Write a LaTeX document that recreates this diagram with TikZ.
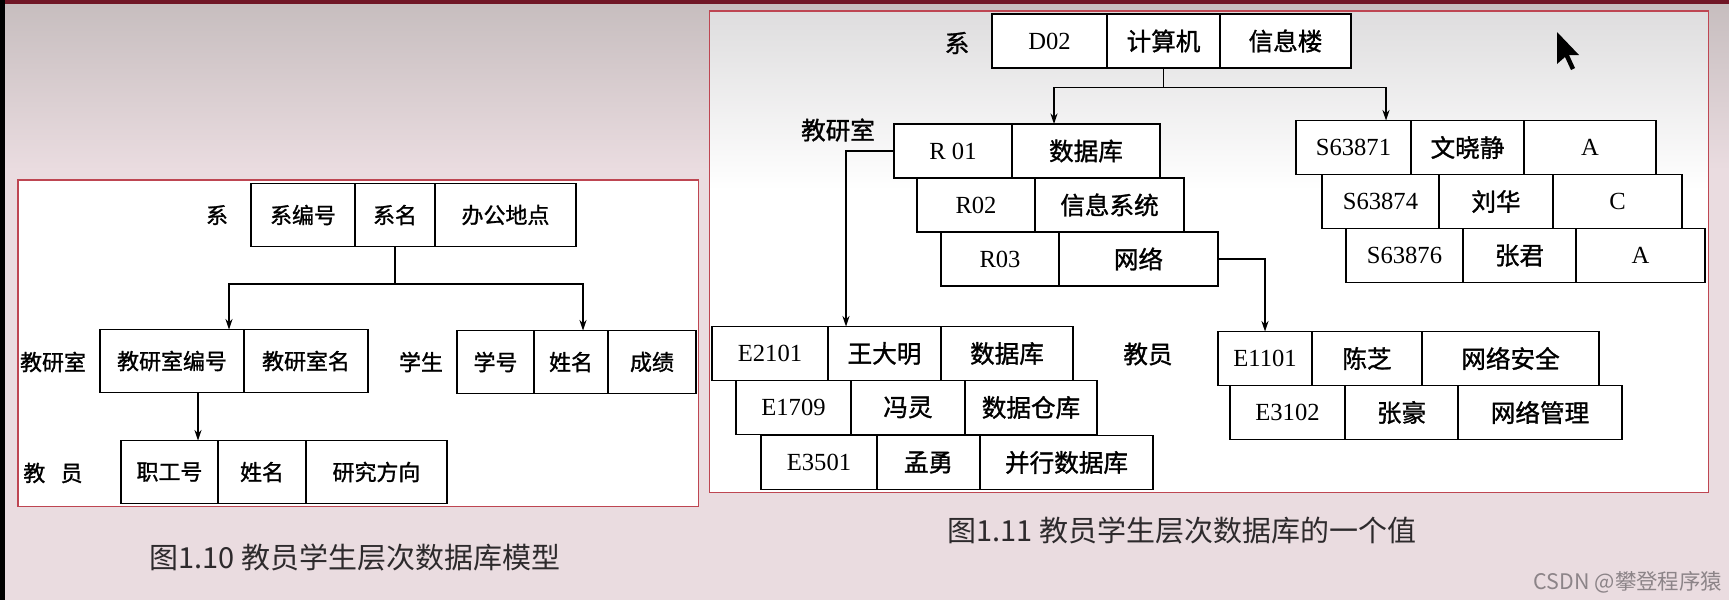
\documentclass[tikz,border=0pt]{standalone}
\usepackage{fontspec}
\setmainfont{Liberation Serif}
\newfontfamily\cjk{Noto Sans CJK SC}
\newfontfamily\cjkb{Noto Sans CJK SC}[FakeBold=1.2]
\usetikzlibrary{arrows.meta,positioning,calc}

\definecolor{bgtop}{RGB}{198,189,190}
\definecolor{bgpink}{RGB}{234,220,224}
\definecolor{stripe}{RGB}{112,22,38}
\definecolor{panelred}{RGB}{190,70,82}
\definecolor{panelgray}{RGB}{222,221,222}
\definecolor{captext}{RGB}{45,42,44}
\definecolor{wmark}{RGB}{140,132,136}

\begin{document}
\begin{tikzpicture}[x=0.02cm, y=-0.02cm,
  fld/.style={draw, line width=0.9pt, outer sep=0pt, inner sep=0pt, anchor=west, fill=white},
  wd/.style={minimum width=#1*0.02cm},
  lbox/.style={fld, minimum height=63*0.02cm, font=\cjkb\fontsize{12.5pt}{15pt}\selectfont},
  rbox/.style={fld, minimum height=54*0.02cm, font=\fontsize{14pt}{16pt}\selectfont},
  rzh/.style={rbox, font=\cjkb\fontsize{14pt}{16pt}\selectfont},
  llbl/.style={font=\cjkb\fontsize{12.5pt}{15pt}\selectfont},
  rlbl/.style={font=\cjkb\fontsize{14pt}{16pt}\selectfont},
  figcap/.style={font=\cjk\fontsize{16.5pt}{18pt}\selectfont, text=captext},
  link/.style={line width=0.8pt},
  arr/.style={link, -{Stealth[length=6pt, width=4pt]}}
]
\useasboundingbox (0,0) rectangle (1729,600);

% screen background
\fill[bgpink] (0,0) rectangle (1729,600);
\shade[top color=bgtop, bottom color=bgpink] (0,0) rectangle (1729,170);
\fill[stripe] (0,0) rectangle (1729,3.5);
\fill[black] (0,0) rectangle (5,600);

% the two panels
\draw[panelred, line width=0.9pt, fill=white] (18,180) rectangle (698.5,506.5);
\fill[white] (709.5,11) rectangle (1708.5,492.5);
\shade[top color=panelgray, bottom color=white] (709.5,11) rectangle (1708.5,190);
\draw[panelred, line width=0.9pt] (709.5,11) rectangle (1708.5,492.5);

% ---- model (left) ----
\node[lbox, wd=104] (dno) at (251,215) {系编号};
\node[lbox, wd=80, right=0pt of dno] (dname) {系名};
\node[lbox, wd=141, right=0pt of dname] (daddr) {办公地点};

\node[lbox, wd=144] (rno) at (100,361) {教研室编号};
\node[lbox, wd=124, right=0pt of rno] (rname) {教研室名};

\node[lbox, wd=77] (sno) at (457,362) {学号};
\node[lbox, wd=74, right=0pt of sno] (sname) {姓名};
\node[lbox, wd=88, right=0pt of sname] (sscore) {成绩};

\node[lbox, wd=97] (eno) at (121,472) {职工号};
\node[lbox, wd=88, right=0pt of eno] (ename) {姓名};
\node[lbox, wd=141, right=0pt of ename] (edir) {研究方向};

\node[llbl] (ldept) at (217,215) {系};
\node[llbl] (lroom) at (53,362) {教研室};
\node[llbl] (lstud) at (421,362) {学生};
\node[llbl] (lstaff) at (53,473) {教\hspace{0.7em}员};

\draw[link] (dname.south) -- ++(0,37.5) coordinate (lsplit);
\draw[arr] (lsplit) -| ($(rno.north east)+(-15,0)$);
\draw[arr] (lsplit) -| ($(sname.north)+(12,0)$);
\draw[arr] ($(rno.south)+(26,0)$) coordinate (rdrop) -- (rdrop |- eno.north);

% ---- one value (right) ----
\node[rbox, wd=115] (dd) at (992,41) {D02};
\node[rzh, wd=113, right=0pt of dd] (dcs) {计算机};
\node[rzh, wd=131, right=0pt of dcs] (dbld) {信息楼};

\node[rbox, wd=118] (r1no) at (894,151) {R 01};
\node[rzh, wd=148, right=0pt of r1no] (r1nm) {数据库};
\node[rbox, wd=118] (r2no) at (917,205) {R02};
\node[rzh, wd=149, right=0pt of r2no] (r2nm) {信息系统};
\node[rbox, wd=118] (r3no) at (941,259) {R03};
\node[rzh, wd=159, right=0pt of r3no] (r3nm) {网络};

\node[rbox, wd=115] (s1no) at (1296,147.5) {S63871};
\node[rzh, wd=113, right=0pt of s1no] (s1nm) {文晓静};
\node[rbox, wd=132, right=0pt of s1nm] (s1sc) {A};
\node[rbox, wd=117] (s2no) at (1322,201.5) {S63874};
\node[rzh, wd=114, right=0pt of s2no] (s2nm) {刘华};
\node[rbox, wd=129, right=0pt of s2nm] (s2sc) {C};
\node[rbox, wd=117] (s3no) at (1346,255.5) {S63876};
\node[rzh, wd=113, right=0pt of s3no] (s3nm) {张君};
\node[rbox, wd=129, right=0pt of s3nm] (s3sc) {A};

\node[rbox, wd=116] (e1no) at (712,353.5) {E2101};
\node[rzh, wd=113, right=0pt of e1no] (e1nm) {王大明};
\node[rzh, wd=132, right=0pt of e1nm] (e1dr) {数据库};
\node[rbox, wd=115] (e2no) at (736,407.5) {E1709};
\node[rzh, wd=114, right=0pt of e2no] (e2nm) {冯灵};
\node[rzh, wd=132, right=0pt of e2nm] (e2dr) {数据仓库};
\node[rbox, wd=116] (e3no) at (761,462.5) {E3501};
\node[rzh, wd=103, right=0pt of e3no] (e3nm) {孟勇};
\node[rzh, wd=173, right=0pt of e3nm] (e3dr) {并行数据库};

\node[rbox, wd=94] (e4no) at (1218,358.5) {E1101};
\node[rzh, wd=110, right=0pt of e4no] (e4nm) {陈芝};
\node[rzh, wd=177, right=0pt of e4nm] (e4dr) {网络安全};
\node[rbox, wd=115] (e5no) at (1230,412.5) {E3102};
\node[rzh, wd=113, right=0pt of e5no] (e5nm) {张豪};
\node[rzh, wd=164, right=0pt of e5nm] (e5dr) {网络管理};

\node[rlbl] (rdept) at (957,43) {系};
\node[rlbl] (rroom) at (838,130) {教研室};
\node[rlbl] (rstaff) at (1148,354) {教员};

\draw[link] (dcs.south) -- ++(0,19.5) coordinate (rsplit);
\draw[arr] (rsplit) -| ($(r1nm.north)+(-32,0)$);
\draw[arr] (rsplit) -| ($(s1no.north east)+(-25,0)$);
\draw[arr] (r1no.west) -| ($(e1nm.north west)+(18,0)$);
\draw[arr] (r3nm.east) -| (e4no.north);

% mouse pointer
\fill[black] (1557,32) -- (1557,64) -- (1565,57) -- (1571,70) -- (1575,68) -- (1569,55) -- (1579,55) -- cycle;

% captions
\node[figcap] (cap1) at (355,557) {图1.10\ 教员学生层次数据库模型};
\node[figcap] (cap2) at (1182,530) {图1.11\ 教员学生层次数据库的一个值};
\node[font=\cjk\fontsize{12.2pt}{14pt}\selectfont, text=wmark] (mark) at (1628,582) {CSDN @攀登程序猿};

\end{tikzpicture}
\end{document}
